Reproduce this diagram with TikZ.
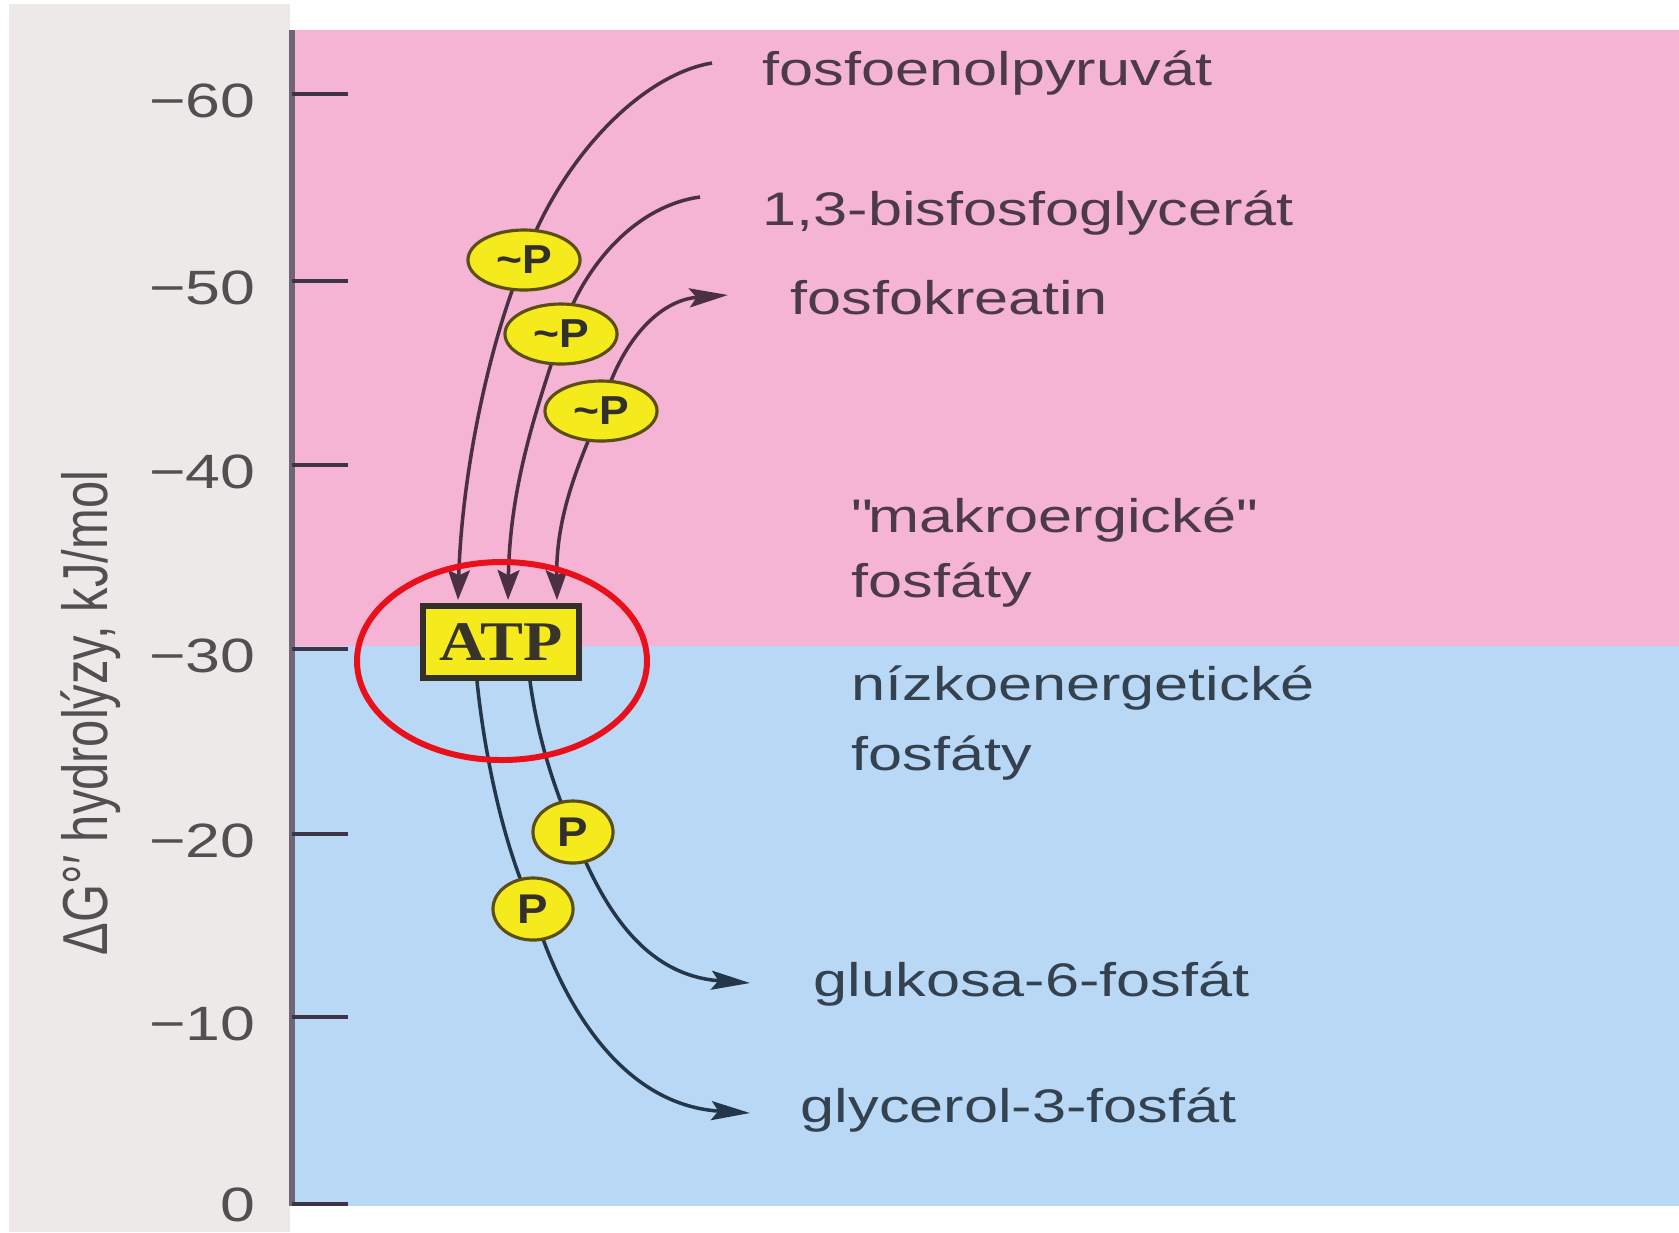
\documentclass[tikz,border=0pt]{standalone}
\usepackage{fontspec}
\setmainfont{Liberation Sans}[FakeStretch=1.3]
\newfontfamily\labfont{Liberation Sans}
\newfontfamily\atpfont{Liberation Serif}[FakeStretch=1.15]
\newfontfamily\pfont{Liberation Sans}[FakeStretch=1.1]
\usetikzlibrary{arrows.meta,calc,shapes.geometric}
\definecolor{paper}{HTML}{EDE9E9}
\definecolor{pinkbg}{HTML}{F5B4D3}
\definecolor{bluebg}{HTML}{B9D8F6}
\definecolor{axiscol}{HTML}{6F6575}
\definecolor{tickcol}{HTML}{3D3545}
\definecolor{numcol}{HTML}{505050}
\definecolor{txtpink}{HTML}{4C3A48}
\definecolor{txtblue}{HTML}{34414F}
\definecolor{curvepink}{HTML}{4A3042}
\definecolor{curveblue}{HTML}{24364A}
\definecolor{pyellow}{HTML}{F5EA1C}
\definecolor{pborder}{HTML}{5C4E12}
\definecolor{ringred}{HTML}{E8101A}
\pgfdeclarelayer{back}
\pgfdeclarelayer{lines}
\pgfsetlayers{back,lines,main}
\tikzset{
  headdown/.tip={Stealth[length=8.5pt,width=6.2pt,inset=1.5pt]},
  headlong/.tip={Stealth[length=11pt,width=5.4pt,inset=2pt]}
}
\begin{document}
\begin{tikzpicture}[x=0.01cm,y=-0.01cm,
  tickline/.style={draw=tickcol,line width=1.1pt},
  ticklbl/.style={text=numcol,inner sep=0pt,anchor=east,font=\fontsize{13.7pt}{16pt}\selectfont},
  lblpink/.style={text=txtpink,inner sep=0pt,anchor=base west,font=\fontsize{13.4pt}{16pt}\selectfont},
  lblblue/.style={text=txtblue,inner sep=0pt,anchor=base west,font=\fontsize{13.4pt}{16pt}\selectfont},
  tpe/.style={ellipse,draw=pborder,fill=pyellow,line width=0.9pt,inner sep=0pt,
      minimum width=1.12cm,minimum height=0.6cm,text=black!85!olive,
      font=\pfont\bfseries\fontsize{11.5pt}{12pt}\selectfont},
  pe/.style={ellipse,draw=pborder,fill=pyellow,line width=0.9pt,inner sep=0pt,
      minimum width=0.8cm,minimum height=0.62cm,text=black!85!olive,
      font=\pfont\bfseries\fontsize{11.8pt}{13pt}\selectfont},
  atpbox/.style={rectangle,draw=black!85!olive,fill=pyellow,line width=1.7pt,inner sep=0pt,
      minimum width=1.56cm,minimum height=0.72cm,text=black!80!olive,
      font=\atpfont\bfseries\fontsize{15.9pt}{18pt}\selectfont},
  cpink/.style={draw=curvepink,line width=1pt},
  cblue/.style={draw=curveblue,line width=1pt}
]
\useasboundingbox (0,0) rectangle (1679,1232);
\begin{pgfonlayer}{back}
  \fill[white] (0,0) rectangle (1679,1232);
  \fill[paper] (9,4) rectangle (290,1232);
  \fill[pinkbg] (290,30) rectangle (1679,646);
  \fill[bluebg] (290,646) rectangle (1679,1206);
  \draw[axiscol,line width=1.7pt] (292,30) -- (292,1206);
\end{pgfonlayer}

% axis ticks and numbers
\foreach \v/\yy in {60/94,50/281,40/465,30/649,20/834,10/1017}{
  \draw[tickline] (292,\yy) -- (348,\yy);
  \node[ticklbl] (t\v) at (256,\yy+7) {−\v};
}
\draw[tickline] (292,1204) -- (348,1204);
\node[ticklbl] (t0) at (256,1205) {0};

% axis label
\node[rotate=90,anchor=base,inner sep=0pt,text=numcol,
      font=\labfont\fontsize{13.9pt}{16pt}\selectfont] (ylab) at (107,713)
      {\scalebox{1}[1.3]{ΔG°′ hydrolýzy, kJ/mol}};

% nodes
\node[atpbox] (atp) at (501,642) {ATP};
\node[tpe] (e1) at (524,260) {\textasciitilde P};
\node[tpe] (e2) at (561,334) {\textasciitilde P};
\node[tpe] (e3) at (601,411) {\textasciitilde P};
\node[pe] (p1) at (573,832) {P};
\node[pe] (p2) at (533,909) {P};

% labels
\node[lblpink] (tA) at (762,85) {fosfoenolpyruvát};
\node[lblpink] (tB) at (762,225) {1,3-bisfosfoglycerát};
\node[lblpink] (tC) at (790,314) {fosfokreatin};
\node[lblpink] (tM) at (851,532) {\textquotedbl makroergické\textquotedbl};
\node[lblpink] (tM2) at (851,597) {fosfáty};
\node[lblblue] (tN) at (851,700) {nízkoenergetické};
\node[lblblue] (tN2) at (851,770) {fosfáty};
\node[lblblue] (tD) at (813,996) {glukosa-6-fosfát};
\node[lblblue] (tE) at (800,1122) {glycerol-3-fosfát};

% free curve ends
\coordinate (cA) at (712,63);
\coordinate (cB) at (700,197);
\coordinate (cC) at (728,295);
\coordinate (cD) at (750,983);
\coordinate (cE) at (750,1113);

\begin{pgfonlayer}{lines}
  \draw[cpink,-headdown] (cA) .. controls (640,75) and (560,160) .. (e1.center)
     .. controls (490,340) and (462,470) .. ($(atp.north)+(-43,-3)$);
  \draw[cpink,-headdown] (cB) .. controls (640,205) and (585,260) .. (e2.center)
     .. controls (540,400) and (510,480) .. ($(atp.north)+(7,-3)$);
  \draw[cpink,headdown-headlong] ($(atp.north)+(56,-3)$) .. controls (556,520) and (575,470) .. (e3.center)
     .. controls (620,340) and (660,300) .. (cC);
  \draw[cblue,-headlong] ($(atp.south)+(29,0)$) .. controls (538,740) and (555,790) .. (p1.center)
     .. controls (600,900) and (640,975) .. (cD);
  \draw[cblue,-headlong] ($(atp.south)+(-24,0)$) .. controls (485,760) and (505,850) .. (p2.center)
     .. controls (560,1000) and (620,1105) .. (cE);
\end{pgfonlayer}

% red ring
\draw[ringred,line width=1.7pt] (502,661) ellipse [x radius=145,y radius=99];
\end{tikzpicture}
\end{document}
